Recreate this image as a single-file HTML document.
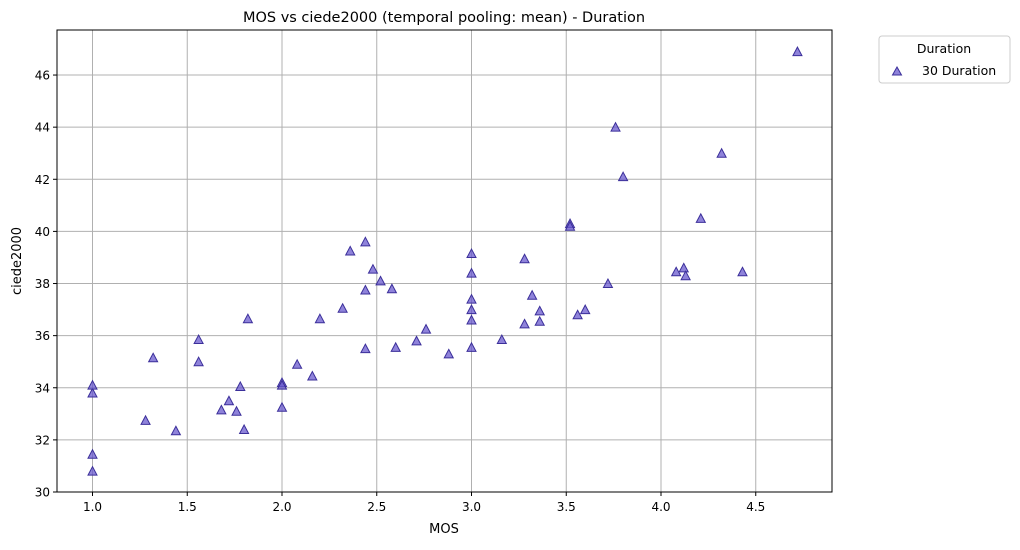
<!DOCTYPE html>
<html><head><meta charset="utf-8"><style>
body{margin:0;background:#fff;font-family:"Liberation Sans","DejaVu Sans",sans-serif;}
svg text{font-family:"DejaVu Sans","Liberation Sans",sans-serif;}
</style></head><body>
<svg id="chart" width="1020" height="545" xmlns="http://www.w3.org/2000/svg">
<text x="444" y="22" text-anchor="middle" font-size="14.5">MOS vs ciede2000 (temporal pooling: mean) - Duration</text>
<g id="grid"></g>
<g id="pts"></g>
<rect x="57" y="30" width="775" height="462" fill="none" stroke="#000" stroke-width="1"/>
<g id="ticks"></g>
<text x="444" y="533" text-anchor="middle" font-size="13">MOS</text>
<text transform="translate(21,261) rotate(-90)" text-anchor="middle" font-size="13">ciede2000</text>
<g>
<rect x="879" y="36" width="131" height="47" rx="3" fill="#fff" stroke="#ccc"/>
<text x="944" y="53" text-anchor="middle" font-size="12.5">Duration</text>
<polygon points="897,67 901.5,75 892.5,75" fill="#6a5acd" fill-opacity="0.75" stroke="#3b2f9a"/>
<text x="922" y="75" font-size="12.5">30 Duration</text>
</g>
</svg>
<script>
const mosValues=[1.0,1.0,1.0,1.0,1.28,1.32,1.44,1.56,1.56,1.68,1.72,1.76,1.78,1.80,1.82,2.0,2.0,2.0,2.08,2.16,2.20,2.32,2.36,2.44,2.44,2.44,2.48,2.52,2.58,2.60,2.71,2.76,2.88,3.0,3.0,3.0,3.0,3.0,3.0,3.16,3.28,3.28,3.32,3.36,3.36,3.52,3.52,3.56,3.60,3.72,3.76,3.80,4.08,4.12,4.13,4.21,4.32,4.43,4.72];
const ciedeValues=[30.8,31.45,33.8,34.1,32.75,35.15,32.35,35.85,35.0,33.15,33.5,33.1,34.05,32.4,36.65,34.2,34.1,33.25,34.9,34.45,36.65,37.05,39.25,39.6,37.75,35.5,38.55,38.1,37.8,35.55,35.8,36.25,35.3,39.15,38.4,37.4,37.0,36.6,35.55,35.85,38.95,36.45,37.55,36.95,36.55,40.3,40.2,36.8,37.0,38.0,44.0,42.1,38.45,38.6,38.3,40.5,43.0,38.45,46.9];
const xTicks=[1.0,1.5,2.0,2.5,3.0,3.5,4.0,4.5];
const yTicks=[30,32,34,36,38,40,42,44,46];
const NS="http://www.w3.org/2000/svg";
function xs(v){return 92.5+(v-1)*189.5;}
function ys(v){return 492-(v-30)*26.06;}
function mk(t,a,p){const e=document.createElementNS(NS,t);for(const k in a)e.setAttribute(k,a[k]);p.appendChild(e);return e;}
const grid=document.getElementById('grid'),ticks=document.getElementById('ticks'),pts=document.getElementById('pts');
xTicks.forEach(v=>{const x=xs(v);
const l=mk('line',{x1:x,x2:x,y1:30,y2:492,stroke:'#b0b0b0','stroke-width':1},grid);


mk('line',{x1:x,x2:x,y1:492,y2:496,stroke:'#000'},ticks);
const t=mk('text',{x:x,y:511,'text-anchor':'middle','font-size':12},ticks);t.textContent=v.toFixed(1);

});
yTicks.forEach(v=>{const y=ys(v);
const l=mk('line',{x1:57,x2:832,y1:y,y2:y,stroke:'#b0b0b0','stroke-width':1},grid);


mk('line',{x1:53,x2:57,y1:y,y2:y,stroke:'#000'},ticks);
const t=mk('text',{x:50,y:y+4.5,'text-anchor':'end','font-size':12},ticks);t.textContent=v;

});
mosValues.forEach((m,i)=>{const x=xs(m),y=ys(ciedeValues[i]);
const p=mk('polygon',{points:`${x},${y-4.5} ${x+4.5},${y+4} ${x-4.5},${y+4}`,fill:'#6a5acd','fill-opacity':0.75,stroke:'#3b2f9a','stroke-width':1},pts);

});
</script>
</body></html>
